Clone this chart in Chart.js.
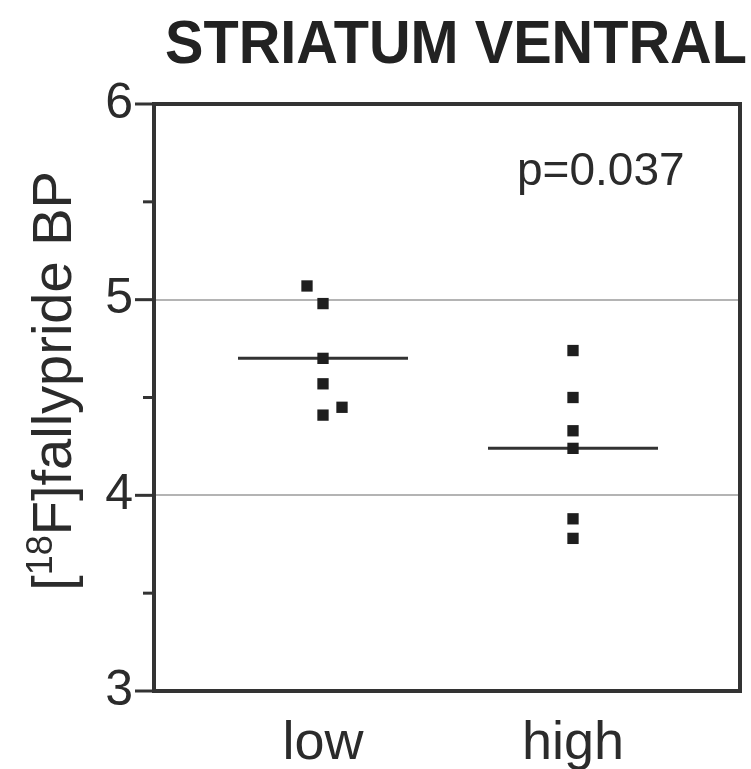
<!DOCTYPE html>
<html>
<head>
<meta charset="utf-8">
<script src="https://cdn.jsdelivr.net/npm/chart.js@4.4.1/dist/chart.umd.min.js"></script>
<style>
    html, body { margin: 0; padding: 0; background: #fff; }
</style>
</head>
<body>
<canvas id="bpChart" width="751" height="769"></canvas>
<script>
// values
const categories = ['low', 'high'];
const lowValues = [5.07, 4.98, 4.70, 4.57, 4.45, 4.41];
const lowOffsets = [-0.064, 0, 0, 0, 0.076, 0];
const highValues = [4.74, 4.50, 4.33, 4.24, 3.88, 3.78];
const highOffsets = [0, 0, 0, 0, 0, 0];
const groupMeans = [4.70, 4.24];
const gridValues = [4, 5];
const titleText = 'STRIATUM VENTRAL';
const pValueText = 'p=0.037';
const yLabelParts = ['[', '18', 'F]fallypride BP'];

const FONT = '"Liberation Sans", Arial, sans-serif';
const INK = '#2b2b2b';
const MEAN_HALF = 0.34;

function toPoints(values, offsets, group) {
    return values.map((v, i) => ({ x: group + offsets[i], y: v }));
}

function meanLine(i) {
    const g = i + 1;
    return [{ x: g - MEAN_HALF, y: groupMeans[i] }, { x: g + MEAN_HALF, y: groupMeans[i] }];
}

// frame, tick marks and the text the library can't lay out the same way
const figureText = {
    id: 'figureText',
    afterDraw(chart) {
        const ctx = chart.ctx;
        const a = chart.chartArea;
        const y = chart.scales.y;
        ctx.save();

        ctx.strokeStyle = '#333';
        ctx.lineWidth = 4;
        ctx.strokeRect(a.left, a.top, a.right - a.left, a.bottom - a.top);

        ctx.lineWidth = 3;
        y.ticks.forEach(t => {
            const py = y.getPixelForValue(t.value);
            const len = t.value % 1 === 0 ? 19 : 11;
            ctx.beginPath();
            ctx.moveTo(a.left - len, py);
            ctx.lineTo(a.left, py);
            ctx.stroke();
        });

        // title
        ctx.fillStyle = '#222';
        ctx.font = 'bold 62px ' + FONT;
        ctx.textAlign = 'right';
        ctx.textBaseline = 'alphabetic';
        const tw = ctx.measureText(titleText).width;
        const sx = Math.min(1, 582 / tw);
        ctx.save();
        ctx.translate(747, 63);
        ctx.scale(sx, 1);
        ctx.fillText(titleText, 0, 0);
        ctx.restore();

        // p value
        ctx.fillStyle = INK;
        ctx.font = '46px ' + FONT;
        ctx.textAlign = 'left';
        ctx.fillText(pValueText, 517, 185);

        // y axis label with superscript
        const mainFont = '56px ' + FONT;
        const supFont = '36px ' + FONT;
        ctx.save();
        ctx.translate(71, 381);
        ctx.rotate(-Math.PI / 2);
        ctx.font = mainFont;
        const w0 = ctx.measureText(yLabelParts[0]).width;
        const w2 = ctx.measureText(yLabelParts[2]).width;
        ctx.font = supFont;
        const w1 = ctx.measureText(yLabelParts[1]).width;
        let x = -(w0 + w1 + w2) / 2;
        ctx.font = mainFont;
        ctx.fillText(yLabelParts[0], x, 0);
        x += w0;
        ctx.font = supFont;
        ctx.fillText(yLabelParts[1], x, -19);
        x += w1;
        ctx.font = mainFont;
        ctx.fillText(yLabelParts[2], x, 0);
        ctx.restore();

        ctx.restore();
    }
};

const ctx = document.getElementById('bpChart').getContext('2d');

new Chart(ctx, {
    type: 'scatter',
    data: {
        datasets: [
            {
                label: 'low',
                data: toPoints(lowValues, lowOffsets, 1),
                pointStyle: 'rect',
                pointRadius: 8,
                backgroundColor: '#1e1e1e',
                borderWidth: 0,
                order: 1
            },
            {
                label: 'high',
                data: toPoints(highValues, highOffsets, 2),
                pointStyle: 'rect',
                pointRadius: 8,
                backgroundColor: '#1e1e1e',
                borderWidth: 0,
                order: 1
            },
            {
                type: 'line',
                label: 'low mean',
                data: meanLine(0),
                borderColor: '#333',
                borderWidth: 3,
                pointRadius: 0,
                order: 2
            },
            {
                type: 'line',
                label: 'high mean',
                data: meanLine(1),
                borderColor: '#333',
                borderWidth: 3,
                pointRadius: 0,
                order: 2
            }
        ]
    },
    options: {
        responsive: false,
        animation: false,
        layout: {
            padding: { top: 104, right: 11, left: 0, bottom: 0 }
        },
        plugins: {
            legend: { display: false },
            tooltip: { enabled: false }
        },
        scales: {
            x: {
                type: 'linear',
                min: 0.324,
                max: 2.668,
                afterBuildTicks: function(scale) {
                    scale.ticks = categories.map((c, i) => ({ value: i + 1 }));
                },
                afterFit: function(scale) {
                    scale.height = 78;
                },
                ticks: {
                    autoSkip: false,
                    maxRotation: 0,
                    padding: 13,
                    color: INK,
                    font: { family: FONT, size: 54 },
                    callback: function(value) {
                        return categories[value - 1];
                    }
                },
                grid: { display: false },
                border: { display: false }
            },
            y: {
                min: 3,
                max: 6,
                afterFit: function(scale) {
                    scale.width = 154;
                },
                ticks: {
                    stepSize: 0.5,
                    padding: 21,
                    color: INK,
                    font: { family: FONT, size: 50 },
                    callback: function(value) {
                        return value % 1 === 0 ? value : '';
                    }
                },
                grid: {
                    drawTicks: false,
                    lineWidth: 2,
                    color: function(c) {
                        return c.tick && gridValues.includes(c.tick.value) ? '#b4b4b4' : 'rgba(0,0,0,0)';
                    }
                },
                border: { display: false }
            }
        }
    },
    plugins: [figureText]
});
</script>
</body>
</html>
